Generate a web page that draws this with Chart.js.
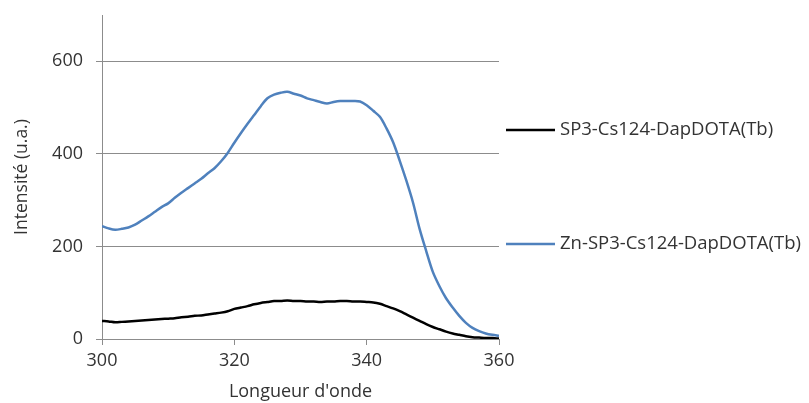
<!DOCTYPE html>
<html>
<head>
<meta charset="utf-8">
<script src="https://cdn.jsdelivr.net/npm/chart.js@4"></script>
<style>
    html, body { margin: 0; padding: 0; background: #fff; }
    #wrap { width: 809px; height: 403px; }
</style>
</head>
<body>
<div id="wrap"><canvas id="chart" width="809" height="403"></canvas></div>
<script>
// wavelengths (nm), one point per nm
let wavelengths = [];
for (let w = 300; w <= 360; w++) wavelengths.push(w);

let seriesLabels = ['SP3-Cs124-DapDOTA(Tb)', 'Zn-SP3-Cs124-DapDOTA(Tb)'];

let sp3Values = [
    39, 38, 36, 37, 38, 39, 40, 41, 42, 43,
    44, 45, 47, 48, 50, 51, 53, 55, 57, 60,
    65, 68, 71, 75, 78, 80, 82, 82, 83, 82,
    82, 81, 81, 80, 81, 81, 82, 82, 81, 81,
    80, 79, 76, 71, 66, 60, 53, 46, 39, 32,
    26, 21, 16, 12, 9, 6, 4, 3, 2, 2,
    1
];

let znValues = [
    244, 239, 236, 238, 241, 247, 256, 265, 275, 285,
    293, 305, 316, 326, 336, 346, 358, 369, 384, 402,
    424, 445, 465, 484, 503, 520, 528, 532, 534, 530,
    526, 520, 516, 512, 509, 512, 514, 514, 514, 513,
    505, 493, 480, 455, 425, 385, 342, 295, 238, 190,
    145, 114, 88, 68, 50, 35, 24, 17, 12, 9,
    7
];

let xTicks = [300, 320, 340, 360];
let yTicks = [0, 200, 400, 600];

let fontFamily = '"Open Sans", sans-serif';
let textColor = '#333333';
let gridColor = '#8c8c8c';

function toPoints(values) {
    return values.map((v, i) => ({ x: wavelengths[i], y: v }));
}

// legend drawn on the right, spaced like the original
let sideLegend = {
    id: 'sideLegend',
    afterDraw(chart) {
        let ctx = chart.ctx;
        let rows = [130, 244];
        ctx.save();
        chart.data.datasets.forEach((ds, i) => {
            let y = rows[i];
            ctx.strokeStyle = ds.borderColor;
            ctx.lineWidth = 2.5;
            ctx.beginPath();
            ctx.moveTo(506, y);
            ctx.lineTo(555, y);
            ctx.stroke();
            ctx.fillStyle = textColor;
            ctx.font = '18.5px ' + fontFamily;
            ctx.textBaseline = 'middle';
            ctx.textAlign = 'left';
            ctx.fillText(ds.label, 560, y);
        });
        ctx.restore();
    }
};

new Chart(document.getElementById('chart'), {
    type: 'line',
    data: {
        datasets: [
            {
                label: seriesLabels[0],
                data: toPoints(sp3Values),
                borderColor: '#000000',
                borderWidth: 2.5,
                pointRadius: 0,
                tension: 0.3
            },
            {
                label: seriesLabels[1],
                data: toPoints(znValues),
                borderColor: '#4f81bd',
                borderWidth: 2.5,
                pointRadius: 0,
                tension: 0.3
            }
        ]
    },
    plugins: [sideLegend],
    options: {
        responsive: false,
        animation: false,
        layout: {
            padding: { left: 0, top: 15, right: 310, bottom: 0 }
        },
        plugins: {
            legend: { display: false },
            tooltip: { enabled: false }
        },
        scales: {
            x: {
                type: 'linear',
                min: 300,
                max: 360,
                afterFit: function (scale) {
                    scale.height = 64;
                    scale.paddingLeft = 0;
                    scale.paddingRight = 0;
                },
                afterBuildTicks: function (scale) {
                    scale.ticks = xTicks.map(v => ({ value: v }));
                },
                ticks: {
                    color: textColor,
                    font: { family: fontFamily, size: 18 },
                    padding: 5,
                    maxRotation: 0
                },
                grid: {
                    drawOnChartArea: false,
                    drawTicks: true,
                    tickLength: 6,
                    color: gridColor
                },
                border: { color: gridColor, width: 1 },
                title: {
                    display: true,
                    text: "Longueur d'onde",
                    color: textColor,
                    font: { family: fontFamily, size: 18 },
                    padding: { top: 0, bottom: 0 }
                }
            },
            y: {
                type: 'linear',
                min: 0,
                max: 700,
                afterFit: function (scale) {
                    scale.width = 102;
                    scale.paddingTop = 0;
                    scale.paddingBottom = 0;
                },
                afterBuildTicks: function (scale) {
                    scale.ticks = yTicks.map(v => ({ value: v }));
                },
                ticks: {
                    color: textColor,
                    font: { family: fontFamily, size: 18 },
                    padding: 13
                },
                grid: {
                    color: gridColor,
                    drawTicks: true,
                    tickLength: 6
                },
                border: { color: gridColor, width: 1 },
                title: {
                    display: true,
                    text: 'Intensité (u.a.)',
                    color: textColor,
                    font: { family: fontFamily, size: 17.5 },
                    padding: { top: 12, bottom: 0 }
                }
            }
        }
    }
});
</script>
</body>
</html>
